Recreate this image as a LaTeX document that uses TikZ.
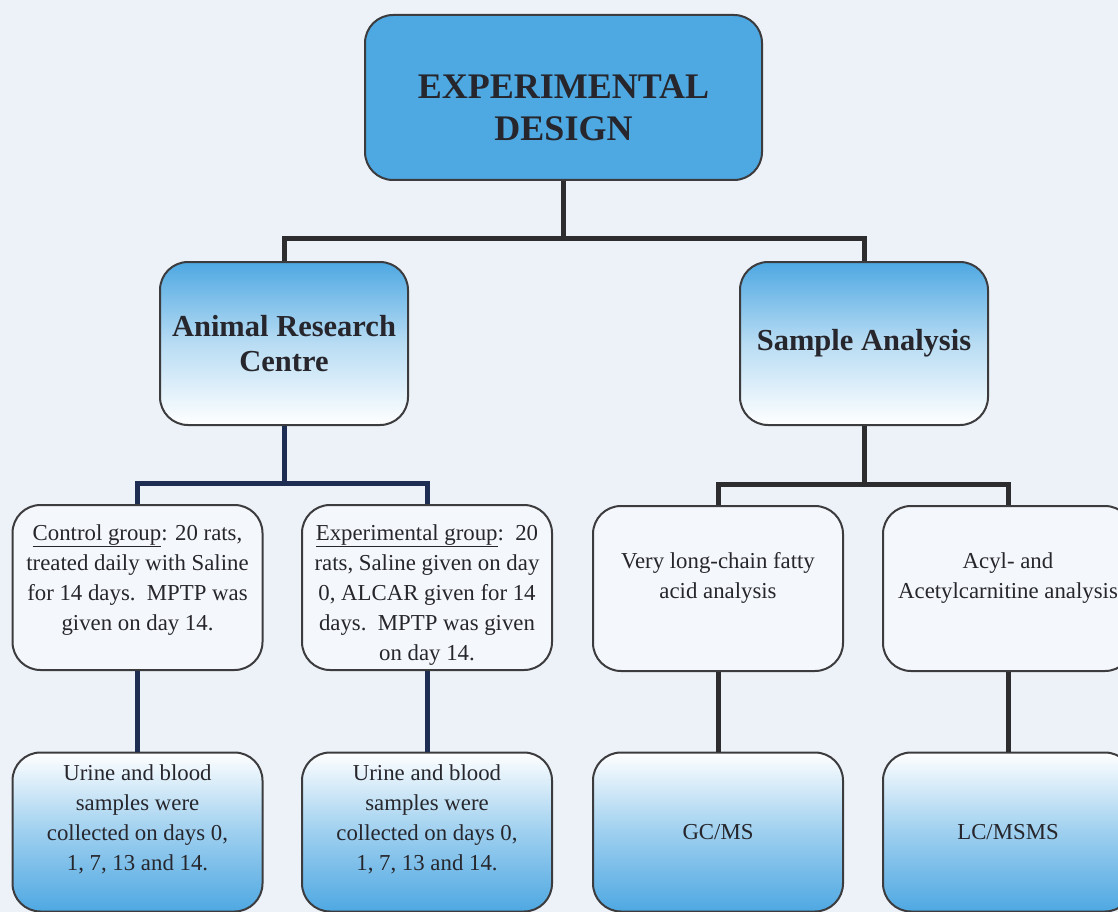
\documentclass[tikz,border=0pt]{standalone}
\usepackage{fontspec}
\setmainfont{LiberationSerif}[Extension=.ttf, UprightFont=*-Regular, BoldFont=*-Bold,
    ItalicFont=*-Italic, BoldItalicFont=*-BoldItalic]
\usepackage{tikz}
\usetikzlibrary{positioning}

\definecolor{paper}{RGB}{237,242,248}
\definecolor{boxblue}{RGB}{78,168,226}
\definecolor{pale}{RGB}{244,247,251}
\definecolor{edge}{RGB}{60,60,62}
\definecolor{ink}{RGB}{38,38,44}
\definecolor{navyline}{RGB}{30,45,82}
\definecolor{greyline}{RGB}{45,45,48}

\begin{document}
\begin{tikzpicture}[x=1pt, y=-1pt,
    box/.style = {draw=edge, line width=2pt, rounded corners=28pt, inner sep=0pt, align=center, text=ink},
    headbox/.style = {box, fill=boxblue, minimum width=397pt, minimum height=165pt,
        font={\fontsize{36}{42}\selectfont\bfseries}},
    groupbox/.style = {box, top color=boxblue, bottom color=white, middle color=boxblue!40!white,
        minimum width=248pt, minimum height=163pt, font={\fontsize{30.5}{35}\selectfont\bfseries}},
    infobox/.style = {box, fill=pale, minimum width=250pt, minimum height=165pt},
    resultbox/.style = {box, top color=white, bottom color=boxblue, middle color=boxblue!55!white,
        minimum width=250pt, minimum height=159pt, font={\fontsize{22.8}{30}\selectfont}},
    celltext/.style = {inner sep=0pt, align=center, text=ink, anchor=north,
        font={\fontsize{22.8}{30}\selectfont}},
    conn/.style = {line width=5pt, draw=greyline},
    navyconn/.style = {line width=5pt, draw=navyline}
]
    \fill[paper] (0,0) rectangle (1118,912);
    \useasboundingbox (0,0) rectangle (1118,912);

    \node[headbox] (design) at (563.5,97.5) {\rule{0pt}{45pt}EXPERIMENTAL\\DESIGN};

    \node[groupbox] (arc) at (284,343.5) {Animal Research\\Centre};
    \node[groupbox] (sa) at (864,343.5) {Sample Analysis};

    \node[infobox] (ctrl) at (137.5,587.5) {};
    \node[infobox] (expt) at (427,587.5) {};
    \node[infobox] (vlcfa) at (718,588.5) {};
    \node[infobox] (acyl) at (1008,588.5) {};

    \node[celltext] (ctrltxt) at (137.5,524) {\underline{Control group}: 20 rats,\\treated daily with Saline\\for 14 days.\ \ MPTP was\\given on day 14.};
    \node[celltext] (expttxt) at (427,524) {\underline{Experimental group}:\ \ 20\\rats, Saline given on day\\0, ALCAR given for 14\\days.\ \ MPTP was given\\on day 14.};
    \node[celltext] (vlcfatxt) at (718,552) {Very long-chain fatty\\acid analysis};
    \node[celltext] (acyltxt) at (1008,552) {Acyl- and\\Acetylcarnitine analysis};

    \node[resultbox] (urine1) at (137.5,832) {};
    \node[resultbox] (urine2) at (427,832) {};
    \node[resultbox] (gcms) at (718,832) {GC/MS};
    \node[resultbox] (lcms) at (1008,832) {LC/MSMS};

    \node[celltext] (urine1txt) at (137.5,764) {Urine and blood\\samples were\\collected on days 0,\\1, 7, 13 and 14.};
    \node[celltext] (urine2txt) at (427,764) {Urine and blood\\samples were\\collected on days 0,\\1, 7, 13 and 14.};

    \coordinate (topbus) at (563.5,238);
    \coordinate (arcbus) at (284,483);
    \coordinate (sabus) at (864,484);

    \draw[conn] (design.south) -- (topbus);
    \draw[conn] (arc.north) |- (topbus) -| (sa.north);

    \draw[navyconn] (arc.south) -- (arcbus);
    \draw[navyconn] (ctrl.north) |- (arcbus) -| (expt.north);
    \draw[navyconn] (ctrl.south) -- (urine1.north);
    \draw[navyconn] (expt.south) -- (urine2.north);

    \draw[conn] (sa.south) -- (sabus);
    \draw[conn] (vlcfa.north) |- (sabus) -| (acyl.north);
    \draw[conn] (vlcfa.south) -- (gcms.north);
    \draw[conn] (acyl.south) -- (lcms.north);
\end{tikzpicture}
\end{document}
